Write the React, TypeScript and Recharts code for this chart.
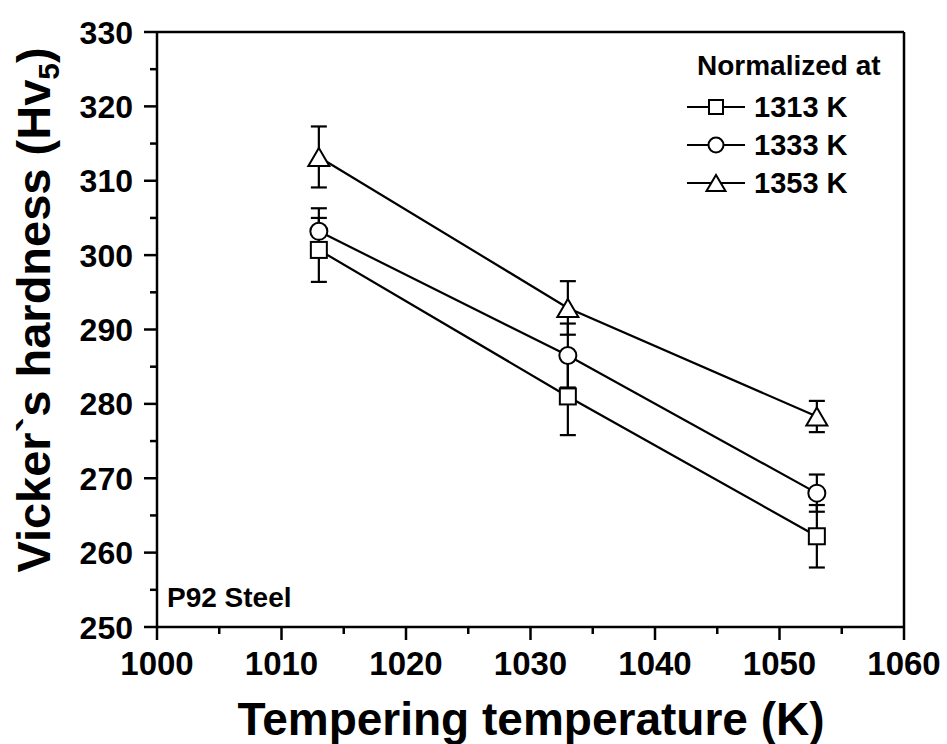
import React from "react";
import {
  LineChart,
  Line,
  XAxis,
  YAxis,
  ErrorBar,
  ReferenceLine,
  Legend,
} from "recharts";

// ---- data ----
const temperatures = [1013, 1033, 1053];
const hv1313 = [300.7, 281.0, 262.2];
const err1313 = [4.3, 5.2, 4.2];
const hv1333 = [303.2, 286.5, 268.0];
const err1333 = [3.1, 4.3, 2.5];
const hv1353 = [313.2, 292.9, 278.3];
const err1353 = [4.1, 3.6, 2.1];

const seriesNames = ["1313 K", "1333 K", "1353 K"];
const xTicks = [1000, 1005, 1010, 1015, 1020, 1025, 1030, 1035, 1040, 1045, 1050, 1055, 1060];
const yTicks = [250, 255, 260, 265, 270, 275, 280, 285, 290, 295, 300, 305, 310, 315, 320, 325, 330];
const xTitle = "Tempering temperature (K)";
const yTitleMain = "Vicker`s hardness (Hv";
const yTitleSub = "5";
const legendTitle = "Normalized at";
const noteText = "P92 Steel";

const data = temperatures.map((t, i) => ({
  t,
  a: hv1313[i],
  ea: err1313[i],
  b: hv1333[i],
  eb: err1333[i],
  c: hv1353[i],
  ec: err1353[i],
}));

const FONT = "'Liberation Sans', Arial, Helvetica, sans-serif";
const AXW = 2.5;

const SquareMark = ({ cx, cy, s = 16 }: any) => (
  <rect x={cx - s / 2} y={cy - s / 2} width={s} height={s} fill="#fff" stroke="#000" strokeWidth={2} />
);
const CircleMark = ({ cx, cy, r = 8.5 }: any) => (
  <circle cx={cx} cy={cy} r={r} fill="#fff" stroke="#000" strokeWidth={2} />
);
const TriMark = ({ cx, cy, w = 21, h = 18 }: any) => (
  <polygon
    points={`${cx - w / 2},${cy + h / 2} ${cx + w / 2},${cy + h / 2} ${cx},${cy - h / 2}`}
    fill="#fff"
    stroke="#000"
    strokeWidth={2}
    strokeLinejoin="miter"
  />
);

const dotFn = (Mark: any) => (props: any) => (
  <Mark key={`d-${props.index}`} cx={props.cx} cy={props.cy} />
);

const XTick = (props: any) => {
  const { x, y, payload } = props;
  const v = payload.value;
  const major = v % 10 === 0;
  return (
    <g>
      <line x1={x} y1={y} x2={x} y2={y + (major ? 13 : 7)} stroke="#000" strokeWidth={AXW} />
      {major && (
        <text x={x} y={y + 48} textAnchor="middle" fontFamily={FONT} fontWeight="bold" fontSize={33} fill="#000">
          {v}
        </text>
      )}
    </g>
  );
};

const YTick = (props: any) => {
  const { x, y, payload } = props;
  const v = payload.value;
  const major = v % 10 === 0;
  return (
    <g>
      <line x1={x} y1={y} x2={x - (major ? 13 : 7)} y2={y} stroke="#000" strokeWidth={AXW} />
      {major && (
        <text x={x - 24} y={y + 11.5} textAnchor="end" fontFamily={FONT} fontWeight="bold" fontSize={32} fill="#000">
          {v}
        </text>
      )}
    </g>
  );
};

const XTitle = () => (
  <text x={531} y={735} textAnchor="middle" fontFamily={FONT} fontWeight="bold" fontSize={46} fill="#000">
    {xTitle}
  </text>
);

const YTitle = () => (
  <g>
    <text
      x={50}
      y={310}
      transform="rotate(-90, 50, 310)"
      textAnchor="middle"
      fontFamily={FONT}
      fontWeight="bold"
      fontSize={47}
      fill="#000"
    >
      {yTitleMain}
      <tspan fontSize={30} dy={9}>{yTitleSub}</tspan>
      <tspan dy={-9}>)</tspan>
    </text>
    <text x={167} y={607} fontFamily={FONT} fontWeight="bold" fontSize={28} fill="#000">
      {noteText}
    </text>
  </g>
);

const marks = [SquareMark, CircleMark, TriMark];

const LegendBox = () => (
  <svg width={260} height={170} style={{ display: "block", overflow: "visible" }}>
    <text x={17} y={35} fontFamily={FONT} fontWeight="bold" fontSize={28} fill="#000">
      {legendTitle}
    </text>
    {seriesNames.map((name, i) => {
      const cy = 67 + i * 38;
      const M = marks[i];
      const small = i === 0 ? { s: 14 } : i === 1 ? { r: 7.5 } : { w: 19, h: 16 };
      return (
        <g key={name}>
          <line x1={7} y1={cy} x2={65} y2={cy} stroke="#000" strokeWidth={2} />
          <M cx={36} cy={cy} {...small} />
          <text x={74} y={cy + 10} fontFamily={FONT} fontWeight="bold" fontSize={29} fill="#000">
            {name}
          </text>
        </g>
      );
    })}
  </svg>
);

export default function App() {
  return (
    <div style={{ position: "absolute", left: 0, top: 0, width: 947, height: 744, background: "#fff" }}>
      <LineChart width={947} height={744} data={data} margin={{ top: 32, right: 43, left: 0, bottom: 0 }}>
        <XAxis
          dataKey="t"
          type="number"
          domain={[1000, 1060]}
          ticks={xTicks}
          interval={0}
          height={117}
          tickSize={0}
          tickMargin={0}
          tickLine={false}
          tick={<XTick />}
          axisLine={{ stroke: "#000", strokeWidth: AXW }}
          label={{ content: () => <XTitle /> }}
        />
        <YAxis
          type="number"
          domain={[250, 330]}
          ticks={yTicks}
          interval={0}
          width={157}
          tickSize={0}
          tickMargin={0}
          tickLine={false}
          tick={<YTick />}
          axisLine={{ stroke: "#000", strokeWidth: AXW }}
          label={{ content: () => <YTitle /> }}
        />
        <ReferenceLine y={330} stroke="#000" strokeWidth={AXW} />
        <ReferenceLine x={1060} stroke="#000" strokeWidth={AXW} />
        <Legend
          layout="horizontal"
          verticalAlign="middle"
          align="center"
          wrapperStyle={{ top: 40, left: 680, width: 260, height: 170 }}
          content={() => <LegendBox />}
        />
        <Line
          dataKey="c"
          name={seriesNames[2]}
          stroke="#000"
          strokeWidth={2.2}
          isAnimationActive={false}
          dot={dotFn(TriMark)}
          activeDot={false}
        >
          <ErrorBar dataKey="ec" width={8} stroke="#000" strokeWidth={2.2} direction="y" />
        </Line>
        <Line
          dataKey="b"
          name={seriesNames[1]}
          stroke="#000"
          strokeWidth={2.2}
          isAnimationActive={false}
          dot={dotFn(CircleMark)}
          activeDot={false}
        >
          <ErrorBar dataKey="eb" width={8} stroke="#000" strokeWidth={2.2} direction="y" />
        </Line>
        <Line
          dataKey="a"
          name={seriesNames[0]}
          stroke="#000"
          strokeWidth={2.2}
          isAnimationActive={false}
          dot={dotFn(SquareMark)}
          activeDot={false}
        >
          <ErrorBar dataKey="ea" width={8} stroke="#000" strokeWidth={2.2} direction="y" />
        </Line>
      </LineChart>
    </div>
  );
}
